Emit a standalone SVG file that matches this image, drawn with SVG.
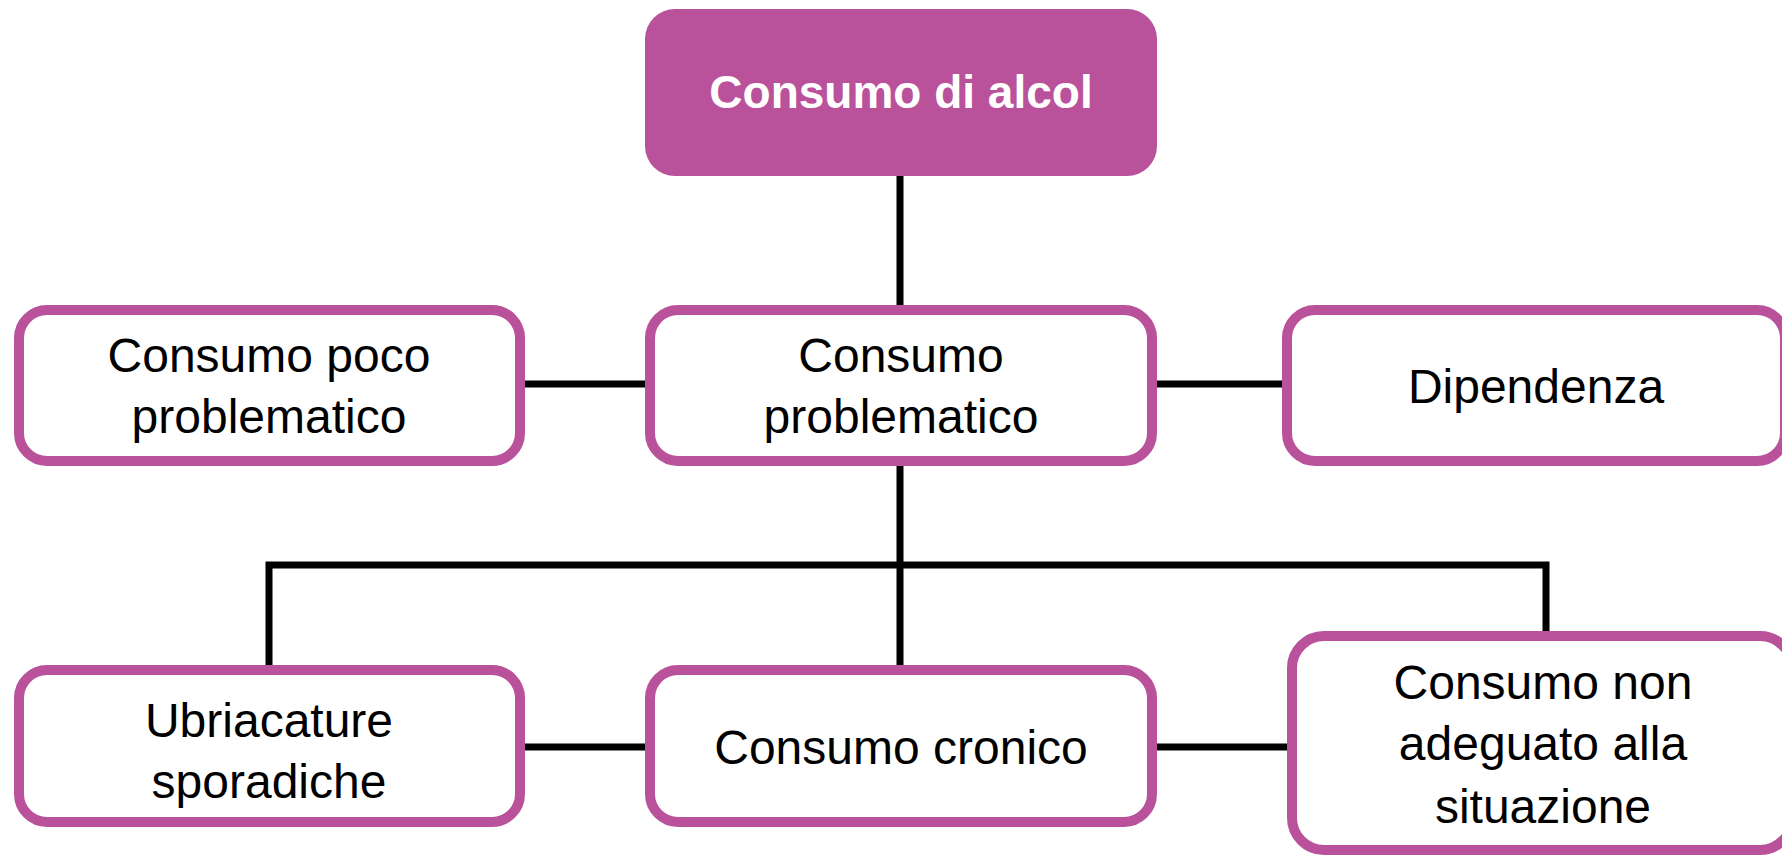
<svg xmlns="http://www.w3.org/2000/svg" width="1782" height="860" viewBox="0 0 1782 860">
<style>
.box{fill:#ffffff;stroke:#B9529B;stroke-width:10}
.top{fill:#B9529B;stroke:none}
.conn{stroke:#000;stroke-width:7;fill:none;stroke-linecap:butt;stroke-linejoin:miter}
.t{font-family:"Liberation Sans",Arial,sans-serif;font-size:48px;fill:#000;text-anchor:middle}
.tb{font-family:"Liberation Sans",Arial,sans-serif;font-size:46px;font-weight:bold;fill:#fff;text-anchor:middle}
</style>
<rect width="1782" height="860" fill="#fff"/>
<g id="connectors">
<line class="conn" x1="900" y1="170" x2="900" y2="310"/>
<line class="conn" x1="520" y1="384" x2="650" y2="384"/>
<line class="conn" x1="1152" y1="384" x2="1287" y2="384"/>
<line class="conn" x1="900" y1="461" x2="900" y2="670"/>
<polyline class="conn" points="269,670 269,565 1546,565 1546,636"/>
<line class="conn" x1="520" y1="747" x2="650" y2="747"/>
<line class="conn" x1="1152" y1="747" x2="1292" y2="747"/>
</g>
<g id="n-root">
<rect class="top" x="645" y="9" width="512" height="167" rx="30"/>
<text class="tb" x="901" y="108">Consumo di alcol</text>
</g>
<g id="n-poco">
<rect class="box" x="19" y="310" width="501" height="151" rx="28"/>
<text class="t" x="269" y="372">Consumo poco</text>
<text class="t" x="269" y="433">problematico</text>
</g>
<g id="n-problematico">
<rect class="box" x="650" y="310" width="502" height="151" rx="28"/>
<text class="t" x="901" y="372">Consumo</text>
<text class="t" x="901" y="433">problematico</text>
</g>
<g id="n-dipendenza">
<rect class="box" x="1287" y="310" width="498" height="151" rx="28"/>
<text class="t" x="1536" y="403">Dipendenza</text>
</g>
<g id="n-ubriacature">
<rect class="box" x="19" y="670" width="501" height="152" rx="28"/>
<text class="t" x="269" y="737">Ubriacature</text>
<text class="t" x="269" y="798">sporadiche</text>
</g>
<g id="n-cronico">
<rect class="box" x="650" y="670" width="502" height="152" rx="28"/>
<text class="t" x="901" y="764">Consumo cronico</text>
</g>
<g id="n-nonadeguato">
<rect class="box" x="1292" y="636" width="500" height="214" rx="32"/>
<text class="t" x="1543" y="699">Consumo non</text>
<text class="t" x="1543" y="760">adeguato alla</text>
<text class="t" x="1543" y="823">situazione</text>
</g>
</svg>
